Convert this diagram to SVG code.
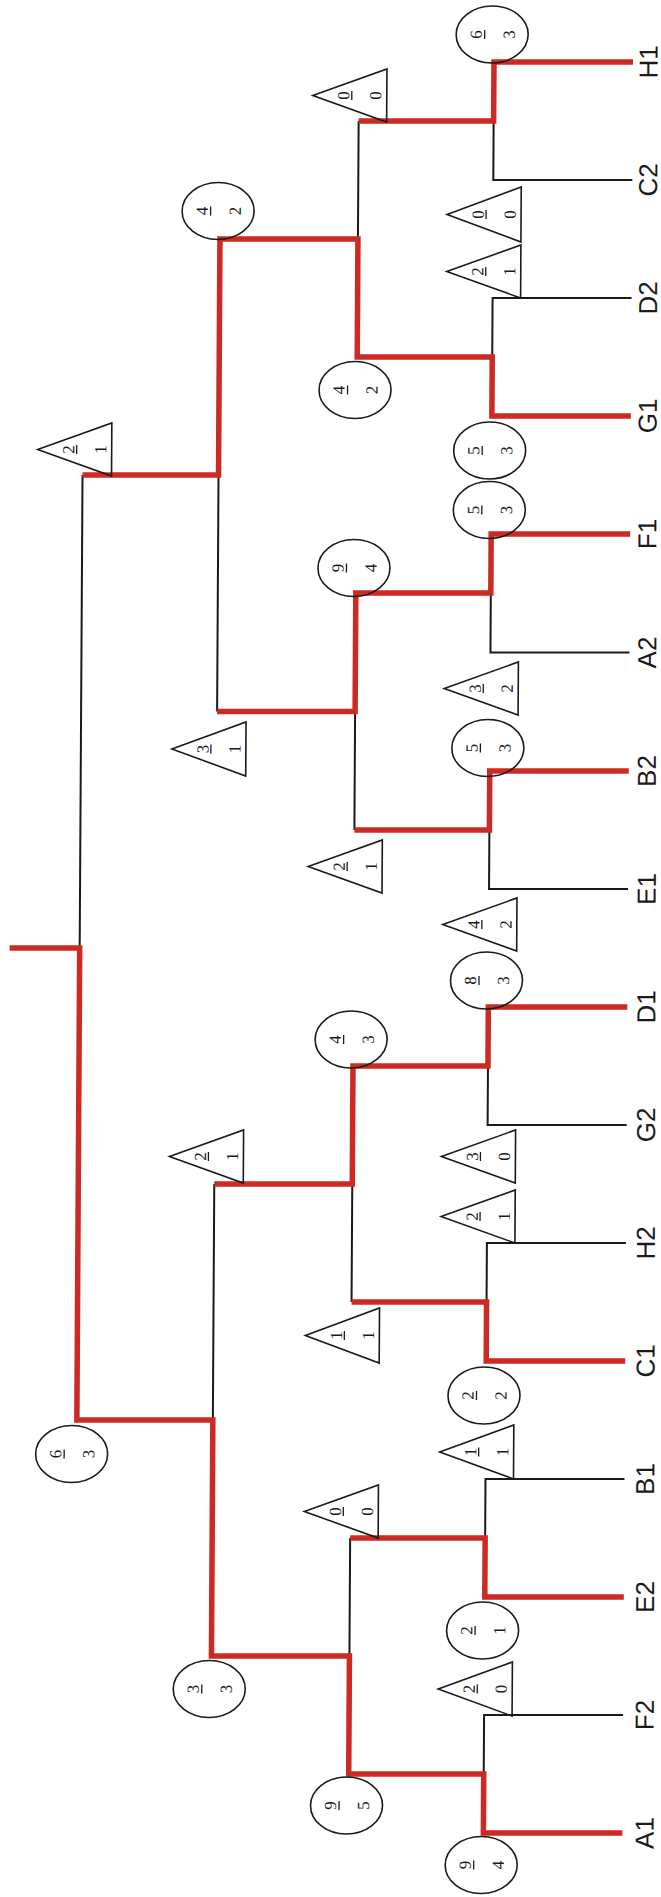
<svg xmlns="http://www.w3.org/2000/svg" width="661" height="1897" viewBox="0 0 661 1897">
<style>
.r{fill:none;stroke:#cc2a22;stroke-width:5.5;stroke-linejoin:miter;stroke-linecap:butt}
.k{fill:none;stroke:#1a1a1a;stroke-width:2}
.m{fill:none;stroke:#1a1a1a;stroke-width:1.6}
.b{stroke:#1a1a1a;stroke-width:1.3}
.d{font-family:"Liberation Serif","Times New Roman",serif;font-size:17px;text-anchor:middle;fill:#1a1a1a}
.lab{font-family:"Liberation Sans",Arial,sans-serif;font-size:26px;text-anchor:middle;fill:#1a1a1a}
</style>
<rect width="661" height="1897" fill="#fff"/>
<g transform="matrix(1,0,-0.006,1,0.372,0)">
<g id="connectors">
<g id="black-lines">
<path class="k" d="M633,180H494V121"/>
<path class="k" d="M633,298H494V357"/>
<path class="k" d="M633,652.5H494V593"/>
<path class="k" d="M633,889H494V830"/>
<path class="k" d="M633,1125H494V1066"/>
<path class="k" d="M633,1243H494V1302"/>
<path class="k" d="M633,1479H494V1538"/>
<path class="k" d="M633,1715H494V1774"/>
<path class="k" d="M359,121V239M359,711.5V830M359,1184V1302M359,1538V1656"/>
<path class="k" d="M221,475V711.5M221,1184V1420"/>
<path class="k" d="M85,475V948"/>
</g>
<g id="red-lines">
<path class="r" d="M633,62H494V121H359"/>
<path class="r" d="M633,416H494V357H359V239H221V475H85"/>
<path class="r" d="M633,534H494V593H359V711.5H221"/>
<path class="r" d="M633,771H494V830H359"/>
<path class="r" d="M633,1007H494V1066H359V1184H221"/>
<path class="r" d="M633,1361H494V1302H359"/>
<path class="r" d="M633,1597H494V1538H359"/>
<path class="r" d="M633,1833H494V1774H359V1656H221V1420H85V948H15"/>
</g>
</g>

<g id="leaf-H1"><text class="lab" transform="translate(657.5,62) rotate(-90)">H1</text></g>
<g id="leaf-C2"><text class="lab" transform="translate(657.9,180) rotate(-90)">C2</text></g>
<g id="leaf-D2"><text class="lab" transform="translate(658.4,298) rotate(-90)">D2</text></g>
<g id="leaf-G1"><text class="lab" transform="translate(658.8,416) rotate(-90)">G1</text></g>
<g id="leaf-F1"><text class="lab" transform="translate(659.2,534) rotate(-90)">F1</text></g>
<g id="leaf-A2"><text class="lab" transform="translate(659.7,652.5) rotate(-90)">A2</text></g>
<g id="leaf-B2"><text class="lab" transform="translate(660.1,771) rotate(-90)">B2</text></g>
<g id="leaf-E1"><text class="lab" transform="translate(660.6,889) rotate(-90)">E1</text></g>
<g id="leaf-D1"><text class="lab" transform="translate(661,1007) rotate(-90)">D1</text></g>
<g id="leaf-G2"><text class="lab" transform="translate(661.4,1125) rotate(-90)">G2</text></g>
<g id="leaf-H2"><text class="lab" transform="translate(661.9,1243) rotate(-90)">H2</text></g>
<g id="leaf-C1"><text class="lab" transform="translate(662.3,1361) rotate(-90)">C1</text></g>
<g id="leaf-B1"><text class="lab" transform="translate(662.7,1479) rotate(-90)">B1</text></g>
<g id="leaf-E2"><text class="lab" transform="translate(663.2,1597) rotate(-90)">E2</text></g>
<g id="leaf-F2"><text class="lab" transform="translate(663.6,1715) rotate(-90)">F2</text></g>
<g id="leaf-A1"><text class="lab" transform="translate(664.1,1833) rotate(-90)">A1</text></g>

<!-- Round 1 circles cx=492 -->
<g id="r1-H1"><ellipse class="m" cx="492" cy="34.5" rx="36" ry="28.5"/><text class="d" transform="translate(481.6,34.5) rotate(-90)">6</text><line class="b" x1="484.5" y1="30" x2="484.5" y2="39"/><text class="d" transform="translate(514.6,34.5) rotate(-90)">3</text></g>
<g id="r1-G1"><ellipse class="m" cx="492" cy="450.5" rx="36" ry="28.5"/><text class="d" transform="translate(481.6,450.5) rotate(-90)">5</text><line class="b" x1="484.5" y1="446" x2="484.5" y2="455"/><text class="d" transform="translate(514.6,450.5) rotate(-90)">3</text></g>
<g id="r1-F1"><ellipse class="m" cx="492" cy="510" rx="36" ry="28.5"/><text class="d" transform="translate(481.6,510) rotate(-90)">5</text><line class="b" x1="484.5" y1="505.5" x2="484.5" y2="514.5"/><text class="d" transform="translate(514.6,510) rotate(-90)">3</text></g>
<g id="r1-B2"><ellipse class="m" cx="492" cy="748" rx="36" ry="28.5"/><text class="d" transform="translate(481.6,748) rotate(-90)">5</text><line class="b" x1="484.5" y1="743.5" x2="484.5" y2="752.5"/><text class="d" transform="translate(514.6,748) rotate(-90)">3</text></g>
<g id="r1-D1"><ellipse class="m" cx="492" cy="980.5" rx="36" ry="28.5"/><text class="d" transform="translate(481.6,980.5) rotate(-90)">8</text><line class="b" x1="484.5" y1="976" x2="484.5" y2="985"/><text class="d" transform="translate(514.6,980.5) rotate(-90)">3</text></g>
<g id="r1-C1"><ellipse class="m" cx="492" cy="1395.5" rx="36" ry="28.5"/><text class="d" transform="translate(481.6,1395.5) rotate(-90)">2</text><line class="b" x1="484.5" y1="1391" x2="484.5" y2="1400"/><text class="d" transform="translate(514.6,1395.5) rotate(-90)">2</text></g>
<g id="r1-E2"><ellipse class="m" cx="492" cy="1630.5" rx="36" ry="28.5"/><text class="d" transform="translate(481.6,1630.5) rotate(-90)">2</text><line class="b" x1="484.5" y1="1626" x2="484.5" y2="1635"/><text class="d" transform="translate(514.6,1630.5) rotate(-90)">1</text></g>
<g id="r1-A1"><ellipse class="m" cx="492" cy="1865" rx="36" ry="28.5"/><text class="d" transform="translate(481.6,1865) rotate(-90)">9</text><line class="b" x1="484.5" y1="1860.5" x2="484.5" y2="1869.5"/><text class="d" transform="translate(514.6,1865) rotate(-90)">4</text></g>

<!-- Round 1 triangles R=522 -->
<g id="r1-C2"><polygon class="m" points="522,187 522,242 448,214.5"/><text class="d" transform="translate(484.6,214.5) rotate(-90)">0</text><line class="b" x1="487" y1="210" x2="487" y2="219"/><text class="d" transform="translate(516.6,214.5) rotate(-90)">0</text></g>
<g id="r1-D2"><polygon class="m" points="522,245 522,298 448,271.5"/><text class="d" transform="translate(484.6,271.5) rotate(-90)">2</text><line class="b" x1="487" y1="267" x2="487" y2="276"/><text class="d" transform="translate(516.6,271.5) rotate(-90)">1</text></g>
<g id="r1-A2"><polygon class="m" points="522,662 522,715 448,688.5"/><text class="d" transform="translate(484.6,688.5) rotate(-90)">3</text><line class="b" x1="487" y1="684" x2="487" y2="693"/><text class="d" transform="translate(516.6,688.5) rotate(-90)">2</text></g>
<g id="r1-E1"><polygon class="m" points="522,898 522,951 448,924.5"/><text class="d" transform="translate(484.6,924.5) rotate(-90)">4</text><line class="b" x1="487" y1="920" x2="487" y2="929"/><text class="d" transform="translate(516.6,924.5) rotate(-90)">2</text></g>
<g id="r1-G2"><polygon class="m" points="522,1130 522,1183 448,1156.5"/><text class="d" transform="translate(484.6,1156.5) rotate(-90)">3</text><line class="b" x1="487" y1="1152" x2="487" y2="1161"/><text class="d" transform="translate(516.6,1156.5) rotate(-90)">0</text></g>
<g id="r1-H2"><polygon class="m" points="522,1190 522,1243 448,1216.5"/><text class="d" transform="translate(484.6,1216.5) rotate(-90)">2</text><line class="b" x1="487" y1="1212" x2="487" y2="1221"/><text class="d" transform="translate(516.6,1216.5) rotate(-90)">1</text></g>
<g id="r1-B1"><polygon class="m" points="522,1425 522,1479 448,1452"/><text class="d" transform="translate(484.6,1452) rotate(-90)">1</text><line class="b" x1="487" y1="1447.5" x2="487" y2="1456.5"/><text class="d" transform="translate(516.6,1452) rotate(-90)">1</text></g>
<g id="r1-F2"><polygon class="m" points="522,1662 522,1716 448,1689"/><text class="d" transform="translate(484.6,1689) rotate(-90)">2</text><line class="b" x1="487" y1="1684.5" x2="487" y2="1693.5"/><text class="d" transform="translate(516.6,1689) rotate(-90)">0</text></g>

<!-- Round 2 -->
<g id="r2-H1"><polygon class="m" points="387,69 387,122 313,95.5"/><text class="d" transform="translate(349.6,95.5) rotate(-90)">0</text><line class="b" x1="352" y1="91" x2="352" y2="100"/><text class="d" transform="translate(381.6,95.5) rotate(-90)">0</text></g>
<g id="r2-G1"><ellipse class="m" cx="357" cy="390" rx="36" ry="28.5"/><text class="d" transform="translate(346.6,390) rotate(-90)">4</text><line class="b" x1="349.5" y1="385.5" x2="349.5" y2="394.5"/><text class="d" transform="translate(379.6,390) rotate(-90)">2</text></g>
<g id="r2-F1"><ellipse class="m" cx="357" cy="568" rx="36" ry="28.5"/><text class="d" transform="translate(346.6,568) rotate(-90)">9</text><line class="b" x1="349.5" y1="563.5" x2="349.5" y2="572.5"/><text class="d" transform="translate(379.6,568) rotate(-90)">4</text></g>
<g id="r2-B2"><polygon class="m" points="387,840 387,893 313,866.5"/><text class="d" transform="translate(349.6,866.5) rotate(-90)">2</text><line class="b" x1="352" y1="862" x2="352" y2="871"/><text class="d" transform="translate(381.6,866.5) rotate(-90)">1</text></g>
<g id="r2-D1"><ellipse class="m" cx="357" cy="1039.5" rx="36" ry="28.5"/><text class="d" transform="translate(346.6,1039.5) rotate(-90)">4</text><line class="b" x1="349.5" y1="1035" x2="349.5" y2="1044"/><text class="d" transform="translate(379.6,1039.5) rotate(-90)">3</text></g>
<g id="r2-C1"><polygon class="m" points="387,1308 387,1363 313,1335.5"/><text class="d" transform="translate(349.6,1335.5) rotate(-90)">1</text><line class="b" x1="352" y1="1331" x2="352" y2="1340"/><text class="d" transform="translate(381.6,1335.5) rotate(-90)">1</text></g>
<g id="r2-E2"><polygon class="m" points="387,1485 387,1538 313,1511.5"/><text class="d" transform="translate(349.6,1511.5) rotate(-90)">0</text><line class="b" x1="352" y1="1507" x2="352" y2="1516"/><text class="d" transform="translate(381.6,1511.5) rotate(-90)">0</text></g>
<g id="r2-A1"><ellipse class="m" cx="357" cy="1805.5" rx="36" ry="28.5"/><text class="d" transform="translate(346.6,1805.5) rotate(-90)">9</text><line class="b" x1="349.5" y1="1801" x2="349.5" y2="1810"/><text class="d" transform="translate(379.6,1805.5) rotate(-90)">5</text></g>

<!-- Round 3 -->
<g id="r3-G1"><ellipse class="m" cx="219" cy="211" rx="36" ry="28.5"/><text class="d" transform="translate(208.6,211) rotate(-90)">4</text><line class="b" x1="211.5" y1="206.5" x2="211.5" y2="215.5"/><text class="d" transform="translate(241.6,211) rotate(-90)">2</text></g>
<g id="r3-F1"><polygon class="m" points="250,722 250,776 176,749"/><text class="d" transform="translate(212.6,749) rotate(-90)">3</text><line class="b" x1="215" y1="744.5" x2="215" y2="753.5"/><text class="d" transform="translate(244.6,749) rotate(-90)">1</text></g>
<g id="r3-D1"><polygon class="m" points="250,1130 250,1183 176,1156.5"/><text class="d" transform="translate(212.6,1156.5) rotate(-90)">2</text><line class="b" x1="215" y1="1152" x2="215" y2="1161"/><text class="d" transform="translate(244.6,1156.5) rotate(-90)">1</text></g>
<g id="r3-A1"><ellipse class="m" cx="219" cy="1689" rx="36" ry="28.5"/><text class="d" transform="translate(208.6,1689) rotate(-90)">3</text><line class="b" x1="211.5" y1="1684.5" x2="211.5" y2="1693.5"/><text class="d" transform="translate(241.6,1689) rotate(-90)">3</text></g>

<!-- Final -->
<g id="r4-G1"><polygon class="m" points="114,423 114,476 40,449.5"/><text class="d" transform="translate(76.6,449.5) rotate(-90)">2</text><line class="b" x1="79" y1="445" x2="79" y2="454"/><text class="d" transform="translate(108.6,449.5) rotate(-90)">1</text></g>
<g id="r4-A1"><ellipse class="m" cx="80" cy="1454" rx="36" ry="28.5"/><text class="d" transform="translate(69.6,1454) rotate(-90)">6</text><line class="b" x1="72.5" y1="1449.5" x2="72.5" y2="1458.5"/><text class="d" transform="translate(102.6,1454) rotate(-90)">3</text></g>
</g>
</svg>
